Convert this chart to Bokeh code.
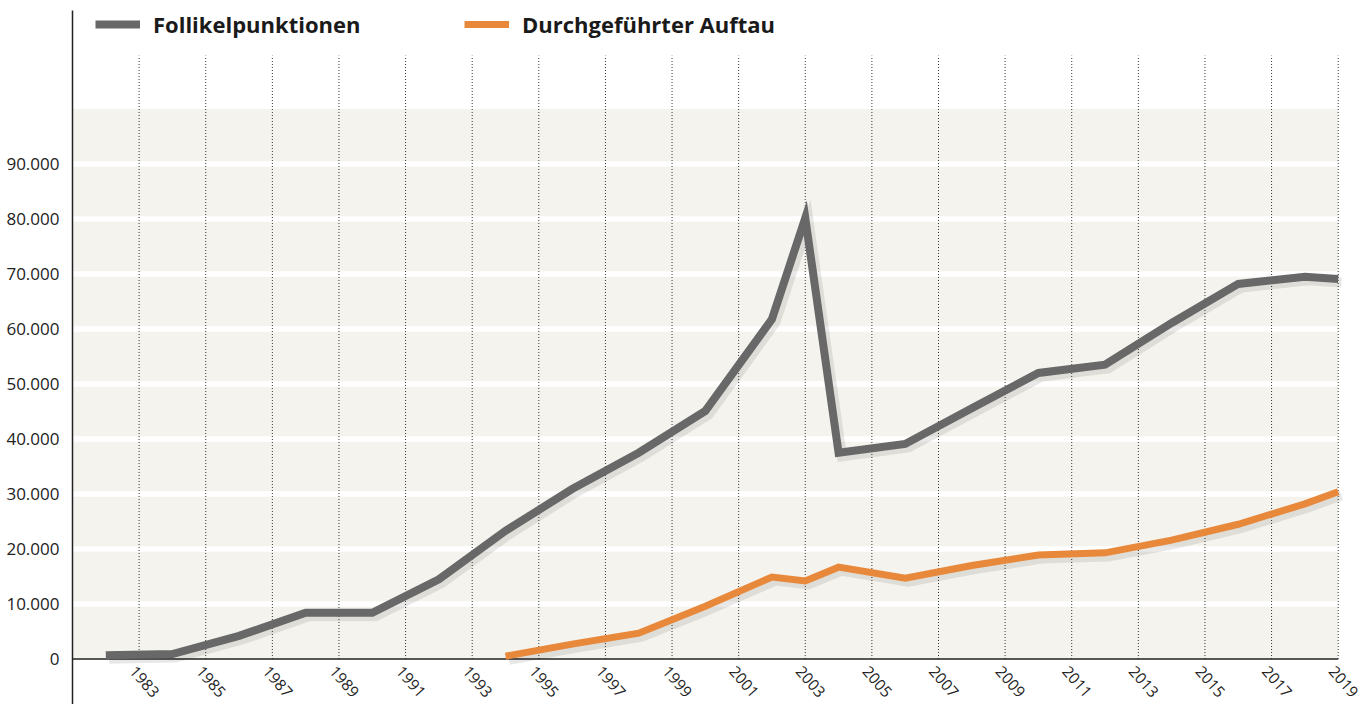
from bokeh.plotting import figure
from bokeh.models import (ColumnDataSource, FixedTicker, Legend, LegendItem, Label,
                          BoxAnnotation, Range1d, CustomJSTickFormatter)
from bokeh.embed import file_html
from bokeh.resources import INLINE
from bokeh.transform import dodge

# ---- data ----
years_fp = [1982, 1984, 1986, 1988, 1990, 1992, 1994, 1996, 1998, 2000, 2002, 2003,
            2004, 2006, 2008, 2010, 2012, 2014, 2016, 2018, 2019]
follikel = [700, 900, 4200, 8400, 8400, 14500, 23300, 30900, 37500, 45100, 61800, 80200,
            37500, 39100, 45600, 52000, 53500, 61100, 68200, 69500, 69100]

years_auf = [1994, 1996, 1998, 2000, 2002, 2003, 2004, 2006, 2008, 2010, 2012, 2014,
             2016, 2018, 2019]
auftau = [500, 2700, 4700, 9600, 14900, 14200, 16700, 14700, 17000, 18900, 19300, 21600,
          24500, 28200, 30400]

tick_years = list(range(1983, 2020, 2))
y_ticks = [0, 10000, 20000, 30000, 40000, 50000, 60000, 70000, 80000, 90000]
y_labels = ["0", "10.000", "20.000", "30.000", "40.000", "50.000", "60.000", "70.000",
            "80.000", "90.000"]
series_names = ["Follikelpunktionen", "Durchgeführter Auftau"]

GREY = "#686868"
ORANGE = "#E8883A"
BAND = "#F5F3EE"
FONT = "Open Sans"
X0, X1 = 1981, 2019        # extent of the shaded plotting band
LABEL_SHIFT = 0.18          # small leftward nudge of the slanted year labels

p = figure(width=1371, height=704,
           x_range=Range1d(X0, 2020), y_range=Range1d(-8273, 117909),
           output_backend="svg", toolbar_location=None,
           min_border_left=72, min_border_right=0, min_border_top=10, min_border_bottom=0)
p.outline_line_color = None
p.xgrid.visible = False
p.ygrid.visible = False

# shaded band
p.add_layout(BoxAnnotation(left=X0, right=X1, bottom=0, top=100000,
                           fill_color=BAND, fill_alpha=1, line_color=None, level="underlay"))

# white horizontal lines
hsrc = ColumnDataSource(dict(y=y_ticks[1:]))
p.segment(x0=X0, x1=X1, y0="y", y1="y", source=hsrc, line_color="white", line_width=5.5)

# dotted vertical lines
vsrc = ColumnDataSource(dict(x=tick_years))
p.segment(x0="x", x1="x", y0=0, y1=109700, source=vsrc, line_color="#333333",
          line_width=1, line_dash="1 2")

# baseline (x axis line) limited to the band
p.segment(x0=X0, x1=X1, y0=0, y1=0, line_color="#222222", line_width=1.5)

src_fp = ColumnDataSource(dict(x=years_fp, y=follikel))
src_auf = ColumnDataSource(dict(x=years_auf, y=auftau))

# soft shadows
for s in (src_fp, src_auf):
    p.line(x=dodge("x", 0.1, range=p.x_range), y=dodge("y", -650, range=p.y_range),
           source=s, line_color="black", line_alpha=0.09, line_width=10, line_join="miter")

r1 = p.line("x", "y", source=src_fp, line_color=GREY, line_width=8, line_join="miter")
r2 = p.line("x", "y", source=src_auf, line_color=ORANGE, line_width=7, line_join="miter")

# axes
xa = p.xaxis[0]
xa.ticker = FixedTicker(ticks=[yr - LABEL_SHIFT for yr in tick_years])
xa.formatter = CustomJSTickFormatter(
    args=dict(shift=LABEL_SHIFT),
    code="return String(Math.round(tick + shift));")
xa.fixed_location = 0
xa.major_label_orientation = -0.85
xa.axis_line_color = None
xa.major_tick_line_color = None
xa.minor_tick_line_color = None
xa.major_label_standoff = 3
xa.major_label_text_font = FONT
xa.major_label_text_font_size = "15.5px"
xa.major_label_text_color = "#222222"

ya = p.yaxis[0]
ya.ticker = FixedTicker(ticks=y_ticks)
ya.major_label_overrides = {t: l for t, l in zip(y_ticks, y_labels)}
ya.axis_line_color = "#222222"
ya.axis_line_width = 1.5
ya.major_tick_line_color = None
ya.minor_tick_line_color = None
ya.major_label_standoff = 7
ya.major_label_text_font = FONT
ya.major_label_text_font_size = "17px"
ya.major_label_text_color = "#222222"

# legends
for r, name, xloc in ((r1, series_names[0], 23), (r2, series_names[1], 392)):
    leg = Legend(items=[LegendItem(label=name, renderers=[r])], location=(xloc, 665),
                 orientation="horizontal", padding=0, margin=0, spacing=0,
                 border_line_color=None, background_fill_alpha=0,
                 glyph_width=45, glyph_height=20, label_standoff=13,
                 label_text_font=FONT, label_text_font_style="bold",
                 label_text_font_size="22px", label_text_color="#1a1a1a")
    p.add_layout(leg)

p.add_layout(Label(x=-27, y=676, x_units="screen", y_units="screen", text="n",
                   text_font=FONT, text_font_style="bold", text_font_size="22px",
                   text_color="#1a1a1a", text_align="center", text_baseline="middle"))

open("out.html", "w").write(file_html(p, INLINE))
